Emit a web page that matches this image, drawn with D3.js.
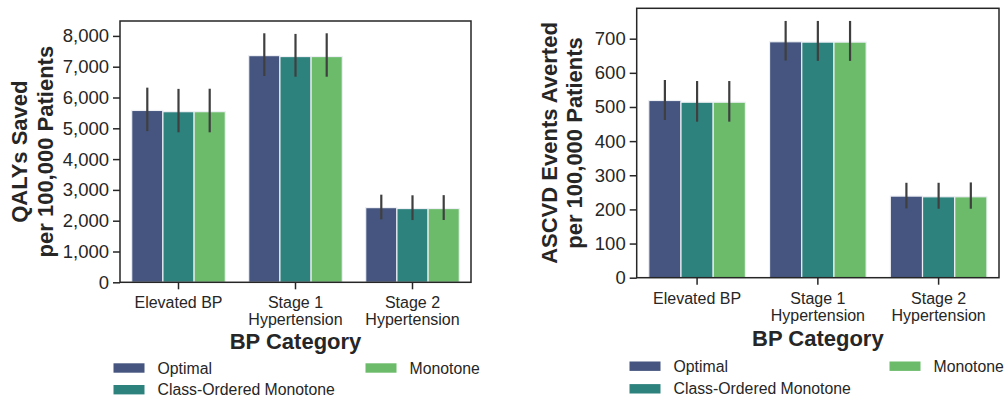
<!DOCTYPE html>
<html><head><meta charset="utf-8">
<script src="https://cdn.jsdelivr.net/npm/d3@7"></script>
<style>body{margin:0;background:#fff}svg{display:block}</style>
</head><body>
<script>
const categories = ["Elevated BP", "Stage 1\nHypertension", "Stage 2\nHypertension"];
const seriesNames = ["Optimal", "Class-Ordered Monotone", "Monotone"];
const seriesColors = ["#45557f", "#2e827e", "#6bbb6b"];

// QALYs saved per 100,000
const qalyOptimal = [5580, 7360, 2425];
const qalyClassOrdered = [5540, 7330, 2395];
const qalyMonotone = [5540, 7330, 2395];
const qalyLowOptimal = [4910, 6700, 2045];
const qalyHighOptimal = [6320, 8085, 2845];
const qalyLowClassOrdered = [4870, 6675, 2020];
const qalyHighClassOrdered = [6280, 8065, 2825];
const qalyLowMonotone = [4870, 6675, 2022];
const qalyHighMonotone = [6285, 8085, 2830];
const qalyTicks = [0, 1000, 2000, 3000, 4000, 5000, 6000, 7000, 8000];

// ASCVD events averted per 100,000
const ascvdOptimal = [519, 691, 239];
const ascvdClassOrdered = [514, 690, 237];
const ascvdMonotone = [514, 690, 237];
const ascvdLowOptimal = [462, 636, 203];
const ascvdHighOptimal = [579, 752, 278];
const ascvdLowClassOrdered = [457, 635, 202];
const ascvdHighClassOrdered = [576, 752, 278];
const ascvdLowMonotone = [457, 635, 202];
const ascvdHighMonotone = [576, 752, 279];
const ascvdTicks = [0, 100, 200, 300, 400, 500, 600, 700];

const TXT = "#262626";
const FONT = "'Liberation Sans', Arial, sans-serif";

const svg = d3.select("body").append("svg").attr("width", 1007).attr("height", 397)
  .style("font-family", FONT);

function panel(cfg) {
  const {x0, x1, y0, y1, ymax, vals, lows, highs, ticks, fmt, ylab, catY, xlabY, legY, legX} = cfg;
  const g = svg.append("g");
  const x = d3.scaleBand().domain(categories).range([x0, x1]).paddingInner(0).paddingOuter(0);
  const xs = d3.scaleBand().domain(seriesNames).range([0, x.bandwidth() * 0.8]).padding(0);
  const y = d3.scaleLinear().domain([0, ymax]).range([y1, y0]);

  // bars
  seriesNames.forEach((s, si) => {
    categories.forEach((c, ci) => {
      const bx = x(c) + x.bandwidth() * 0.1 + xs(s);
      g.append("rect")
        .attr("x", bx).attr("width", xs.bandwidth())
        .attr("y", y(vals[si][ci])).attr("height", y(0) - y(vals[si][ci]))
        .attr("fill", seriesColors[si])
        .attr("stroke", "#eef0f5").attr("stroke-width", 1.2);
    });
  });
  // error bars
  seriesNames.forEach((s, si) => {
    categories.forEach((c, ci) => {
      const cx = x(c) + x.bandwidth() * 0.1 + xs(s) + xs.bandwidth() / 2;
      g.append("line").attr("x1", cx).attr("x2", cx)
        .attr("y1", y(lows[si][ci])).attr("y2", y(highs[si][ci]))
        .attr("stroke", "#3f3f3f").attr("stroke-width", 2.2);
    });
  });

  // y axis
  const yAxis = d3.axisLeft(y).tickValues(ticks).tickFormat(fmt).tickSize(7).tickPadding(4);
  const ya = g.append("g").attr("transform", `translate(${x0},0)`).call(yAxis);
  ya.select(".domain").remove();
  ya.selectAll(".tick line").attr("stroke", TXT).attr("stroke-width", 1.5);
  ya.selectAll(".tick text").attr("fill", TXT).style("font-size", "18.5px").style("font-family", FONT);

  // x axis
  const xAxis = d3.axisBottom(x).tickSize(7).tickFormat("");
  const xa = g.append("g").attr("transform", `translate(0,${y1})`).call(xAxis);
  xa.select(".domain").remove();
  xa.selectAll(".tick line").attr("stroke", TXT).attr("stroke-width", 1.5);
  categories.forEach(c => {
    const lines = c.split("\n");
    const t = g.append("text").attr("text-anchor", "middle").attr("fill", TXT)
      .style("font-size", "16px");
    lines.forEach((ln, i) => {
      t.append("tspan").attr("x", x(c) + x.bandwidth() / 2).attr("y", catY + i * 17.8).text(ln);
    });
  });

  // frame
  g.append("rect").attr("x", x0).attr("y", y0).attr("width", x1 - x0).attr("height", y1 - y0)
    .attr("fill", "none").attr("stroke", TXT).attr("stroke-width", 1.5);

  // axis labels
  g.append("text").attr("x", (x0 + x1) / 2).attr("y", xlabY).attr("text-anchor", "middle")
    .attr("fill", TXT).style("font-size", "22px").style("font-weight", "bold").text("BP Category");
  const yc = (y0 + y1) / 2;
  ylab.forEach((ln, i) => {
    g.append("text").attr("transform", `translate(${cfg.ylabX[i]},${yc}) rotate(-90)`)
      .attr("text-anchor", "middle").attr("fill", TXT)
      .style("font-size", "22px").style("font-weight", "bold").text(ln);
  });

  // legend
  const pos = [[0, 0], [0, 1], [1, 0]];
  seriesNames.forEach((s, si) => {
    const [col, row] = pos[si];
    const lx = legX[col];
    const ly = legY[row];
    g.append("rect").attr("x", lx).attr("y", ly - 4.7).attr("width", 31).attr("height", 9.4)
      .attr("fill", seriesColors[si]);
    g.append("text").attr("x", lx + 44).attr("y", ly + 5.5).attr("fill", TXT)
      .style("font-size", "15.8px").text(s);
  });
}

panel({
  x0: 120, x1: 471, y0: 21, y1: 282.3, ymax: 8484,
  vals: [qalyOptimal, qalyClassOrdered, qalyMonotone],
  lows: [qalyLowOptimal, qalyLowClassOrdered, qalyLowMonotone],
  highs: [qalyHighOptimal, qalyHighClassOrdered, qalyHighMonotone],
  ticks: qalyTicks, fmt: d3.format(","),
  ylab: ["QALYs Saved", "per 100,000 Patients"], ylabX: [27, 52.5],
  catY: 307.5, xlabY: 348.5, legY: [368, 389.7], legX: [113.5, 365.5]
});

panel({
  x0: 636.7, x1: 999, y0: 8.3, y1: 277.7, ymax: 789,
  vals: [ascvdOptimal, ascvdClassOrdered, ascvdMonotone],
  lows: [ascvdLowOptimal, ascvdLowClassOrdered, ascvdLowMonotone],
  highs: [ascvdHighOptimal, ascvdHighClassOrdered, ascvdHighMonotone],
  ticks: ascvdTicks, fmt: d3.format("d"),
  ylab: ["ASCVD Events Averted", "per 100,000 Patients"], ylabX: [556.5, 581.5],
  catY: 303.5, xlabY: 346, legY: [366.2, 388.8], legX: [629.5, 889.5]
});
</script>
</body></html>
